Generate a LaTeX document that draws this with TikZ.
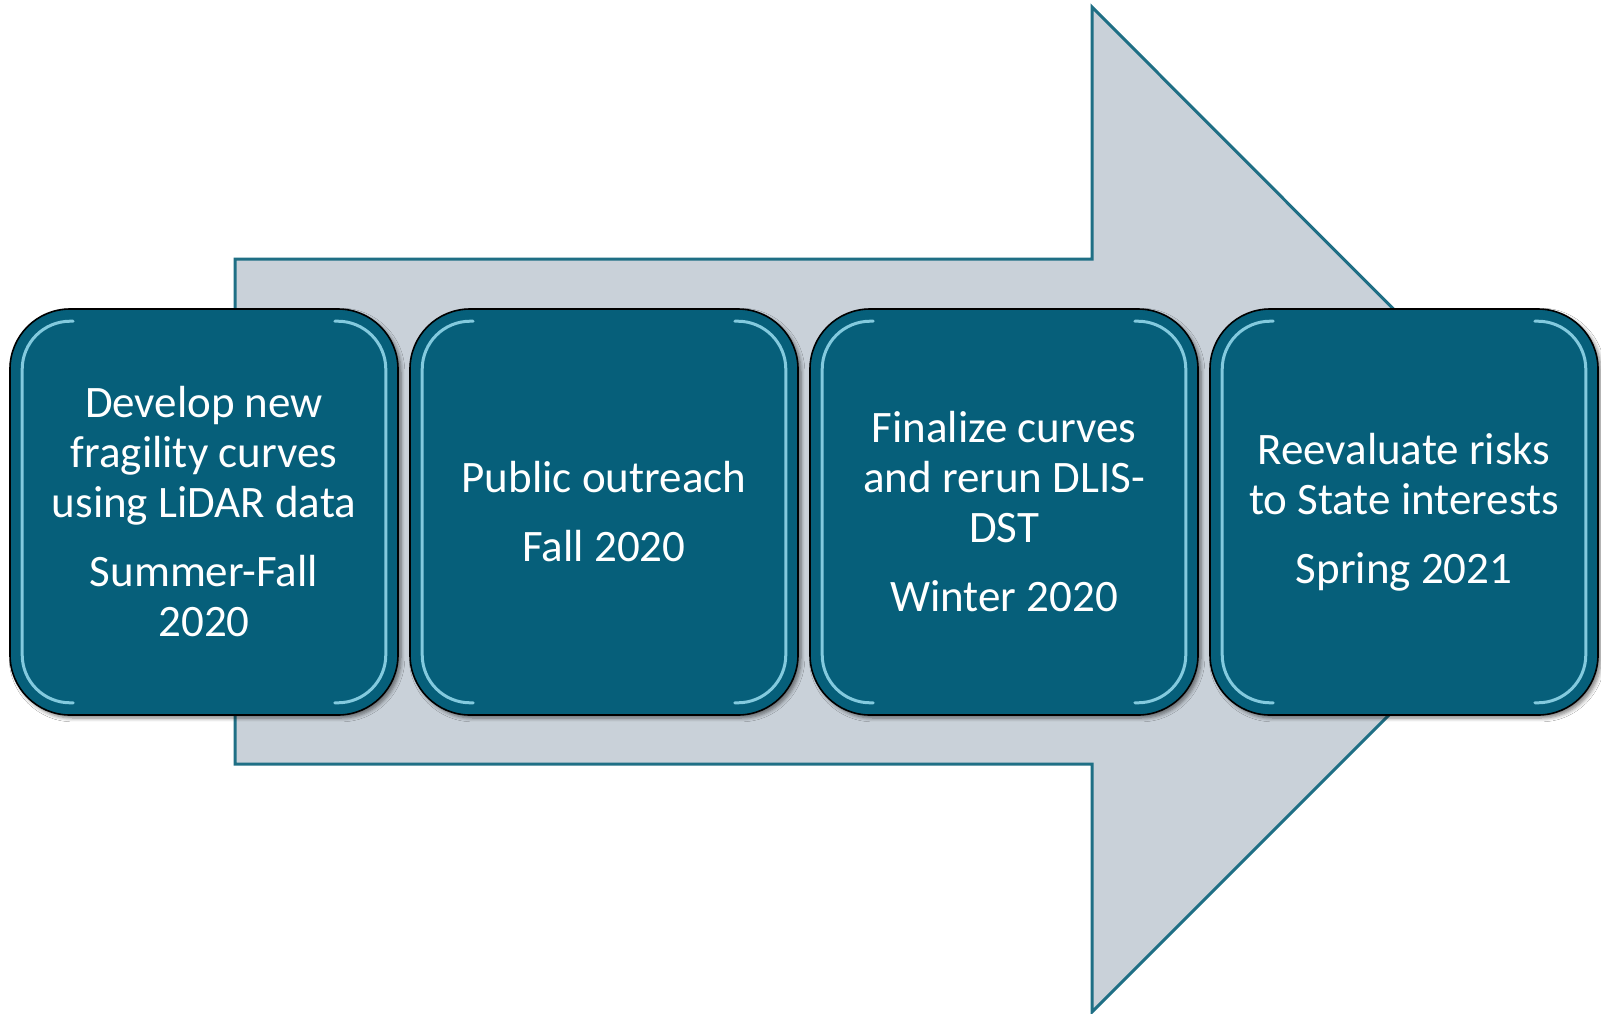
\documentclass[tikz,border=0pt]{standalone}
\usepackage{fontspec}
\setmainfont{Carlito}
\usetikzlibrary{shadows.blur}
\definecolor{boxfill}{HTML}{065F7A}
\definecolor{arrowfill}{HTML}{C9D1D9}
\definecolor{arrowline}{HTML}{1F6F85}
\definecolor{gloss}{HTML}{9ADDF0}
\begin{document}
\begin{tikzpicture}[x=0.5pt,y=-0.5pt,
  stepbox/.style={draw=black, line width=0.8pt, fill=boxfill, rounded corners=30pt,
    minimum width=194pt, minimum height=203pt, text=white, align=center,
    font=\fontsize{22.5}{25}\selectfont,
    blur shadow={shadow xshift=1.5pt, shadow yshift=-1.5pt, shadow blur steps=5, shadow opacity=50}},
  glossline/.style={draw=gloss, line width=1.5pt, rounded corners=24pt, opacity=0.85, line cap=round}]
\useasboundingbox (0,0) rectangle (1601,1013);
\fill[white] (0,0) rectangle (1601,1013);
% big arrow
\draw[arrowline, line width=1.5pt, fill=arrowfill, line join=miter]
  (235,259) -- (1092,259) -- (1092,7) -- (1594,510) -- (1092,1012) -- (1092,764) -- (235,764) -- cycle;
% boxes
\foreach \n/\cx/\txt in {
  b1/204/{Develop new\\fragility curves\\using LiDAR data\\[9.5pt]Summer-Fall\\2020},
  b2/604/{Public outreach\\[9.5pt]Fall 2020},
  b3/1004/{Finalize curves\\and rerun DLIS-\\DST\\[9.5pt]Winter 2020},
  b4/1404/{Reevaluate risks\\to State interests\\[9.5pt]Spring 2021}}{
  \node[stepbox] (\n) at (\cx,512) {\txt};
  \draw[glossline] ([xshift=32pt,yshift=-6.5pt]\n.north west) -- ([xshift=6.5pt,yshift=-6.5pt]\n.north west)
     -- ([xshift=6.5pt,yshift=6.5pt]\n.south west) -- ([xshift=32pt,yshift=6.5pt]\n.south west);
  \draw[glossline] ([xshift=-32pt,yshift=-6.5pt]\n.north east) -- ([xshift=-6.5pt,yshift=-6.5pt]\n.north east)
     -- ([xshift=-6.5pt,yshift=6.5pt]\n.south east) -- ([xshift=-32pt,yshift=6.5pt]\n.south east);
}
\end{tikzpicture}
\end{document}
